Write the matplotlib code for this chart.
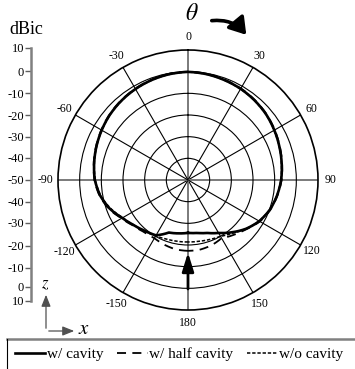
##
## === DEPENDENCIES
##

import matplotlib

matplotlib.use("Agg")
import matplotlib.pyplot as plt
import numpy
from matplotlib.lines import Line2D
from matplotlib.patches import FancyArrowPatch

##
## === DATA
##

angles_deg = list(range(-180, 181, 10))
gain_with_cavity = [
    -25.6, -25.0, -24.2, -20.5, -19.3, -17.5, -15.0, -11.5, -8.8, -7.0,
    -6.0, -5.0, -4.0, -3.0, -2.2, -1.5, -0.9, -0.4, -0.1,
    -0.4, -0.9, -1.4, -2.1, -2.9, -4.0, -5.1, -6.1, -7.0,
    -8.3, -9.8, -12.0, -15.0, -18.5, -21.8, -24.0, -25.2, -25.6,
]
gain_half_cavity = [
    -17.3, -17.5, -18.2, -19.0, -18.6, -17.2, -14.6, -11.1, -8.5, -6.8,
    -5.8, -4.8, -3.8, -2.8, -2.0, -1.3, -0.7, -0.2, 0.0,
    -0.2, -0.7, -1.2, -1.9, -2.7, -3.8, -4.9, -5.9, -6.8,
    -8.1, -9.6, -11.7, -14.8, -17.0, -19.0, -18.0, -17.4, -17.3,
]
gain_no_cavity = [
    -21.4, -21.3, -21.0, -20.2, -19.0, -17.6, -15.2, -11.9, -9.0, -7.2,
    -6.1, -5.1, -4.1, -3.1, -2.3, -1.6, -1.0, -0.5, -0.2,
    -0.5, -1.0, -1.5, -2.2, -3.0, -4.1, -5.2, -6.2, -7.1,
    -8.4, -9.9, -12.1, -15.0, -18.0, -20.0, -20.8, -21.3, -21.4,
]
series_labels = ["w/ cavity", "w/ half cavity", "w/o cavity"]

theta_tick_deg = [0, 30, 60, 90, 120, 150, 180, 210, 240, 270, 300, 330]
theta_tick_labels = ["0", "30", "60", "90", "120", "150", "180",
                     "-150", "-120", "-90", "-60", "-30"]
theta_minor_deg = [15, 45, 75, 105, 135, 165, 195, 225, 255, 285, 315, 345]
radial_rings = [-40, -30, -20, -10, 0]
radial_limits = (-50, 10)

scale_labels = ["10", "0", "-10", "-20", "-30", "-40", "-50",
                "-40", "-30", "-20", "-10", "0", "10"]
# tick rows (image pixels) of the hand drawn dBic scale
scale_rows_px = [48, 71, 93, 115, 137, 158, 180, 202, 223, 246, 268, 287, 301]

##
## === LAYOUT HELPERS
##

FIG_W, FIG_H = 355, 369


def px(x_px: float, y_px: float) -> tuple:
    return x_px / FIG_W, 1 - y_px / FIG_H


##
## === MAIN
##


def main() -> None:
    plt.rcParams["font.family"] = ["Liberation Serif", "DejaVu Serif"]
    plt.rcParams["mathtext.fontset"] = "stix"

    fig = plt.figure(figsize=(FIG_W / 100, FIG_H / 100), dpi=100)

    ## polar plot: centre (188, 180), radius 130 px
    left, top = px(58, 50)
    right, bottom = px(318, 310)
    ax = fig.add_axes([left, bottom, right - left, top - bottom], projection="polar")
    ax.set_theta_zero_location("N")
    ax.set_theta_direction(-1)
    ax.set_ylim(*radial_limits)

    ax.set_yticks(radial_rings)
    ax.set_yticklabels([])
    ax.set_xticks(numpy.deg2rad(theta_tick_deg))
    ax.set_xticklabels([])
    ax.set_xticks(numpy.deg2rad(theta_minor_deg), minor=True)
    ax.tick_params(axis="x", which="major", length=0)
    ax.tick_params(axis="x", which="minor", direction="in", length=4, width=0.8, color="black")
    ax.grid(True, which="major", color="black", linewidth=0.8)
    for idx, line in enumerate(ax.xaxis.get_gridlines()):
        if idx % 3 == 0:
            line.set_color("#707070")
            line.set_linewidth(1.3)
    ax.spines["polar"].set_linewidth(1.2)
    ax.spines["polar"].set_color("black")

    theta = numpy.deg2rad(angles_deg)
    lines = []
    lines += ax.plot(theta, gain_with_cavity, color="black", linewidth=1.9,
                     label=series_labels[0])
    lines += ax.plot(theta, gain_half_cavity, color="black", linewidth=1.3,
                     dashes=(5, 3.5), label=series_labels[1])
    lines += ax.plot(theta, gain_no_cavity, color="black", linewidth=1.1,
                     dashes=(2.2, 1.2), label=series_labels[2])
    for line in lines:
        # let the polar transform curve each segment
        line.get_path()._interpolation_steps = 20

    label_r = radial_limits[1] + 0.1 * (radial_limits[1] - radial_limits[0])
    for ang, text in zip(theta_tick_deg, theta_tick_labels):
        ax.text(numpy.deg2rad(ang), label_r, text, ha="center", va="center",
                fontsize=8.5, clip_on=False)

    ## incidence arrow at 180
    ax.annotate(
        "",
        xy=(numpy.pi, -16.5),
        xytext=(numpy.pi, 0.3),
        arrowprops=dict(arrowstyle="-|>,head_length=0.8,head_width=0.25",
                        color="black", linewidth=2.0, mutation_scale=14,
                        shrinkA=0, shrinkB=0),
    )

    ## theta label and rotation arrow
    fig.text(*px(192, 14), r"$\theta$", fontsize=17, ha="center", va="center")
    fig.patches.append(FancyArrowPatch(
        px(209, 21), px(248, 37),
        transform=fig.transFigure,
        connectionstyle="arc3,rad=-0.3",
        arrowstyle="-|>,head_length=0.7,head_width=0.45",
        mutation_scale=14, linewidth=2.6, color="black",
    ))

    ## dBic scale on the left
    s_left, s_top = px(31, scale_rows_px[0])
    _, s_bottom = px(31, scale_rows_px[-1])
    ax_scale = fig.add_axes([s_left, s_bottom, 0.01, s_top - s_bottom])
    ax_scale.set_ylim(scale_rows_px[-1], scale_rows_px[0])
    ax_scale.set_yticks(scale_rows_px)
    ax_scale.set_yticklabels(scale_labels, fontsize=9)
    ax_scale.set_xticks([])
    for side in ["top", "right", "bottom"]:
        ax_scale.spines[side].set_visible(False)
    ax_scale.spines["left"].set_color("#808080")
    ax_scale.spines["left"].set_linewidth(1.8)
    ax_scale.tick_params(axis="y", length=4, width=1, color="#606060", pad=1)
    ax_scale.patch.set_alpha(0)
    fig.text(*px(9, 29), "dBic", fontsize=13, ha="left", va="center")

    ## coordinate icon
    corner = px(46, 331)
    fig.patches.append(FancyArrowPatch(
        corner, px(46, 292), transform=fig.transFigure,
        arrowstyle="-|>,head_length=0.5,head_width=0.2", mutation_scale=14,
        linewidth=0.9, color="#505050",
    ))
    fig.patches.append(FancyArrowPatch(
        corner, px(77, 331), transform=fig.transFigure,
        arrowstyle="-|>,head_length=0.5,head_width=0.2", mutation_scale=14,
        linewidth=0.9, color="#505050",
    ))
    fig.text(*px(45, 284), r"$z$", fontsize=12, ha="center", va="center")
    fig.text(*px(84, 330), r"$x$", fontsize=15, ha="center", va="center")

    ## legend box
    fig.add_artist(Line2D([7 / FIG_W, 1.0], [1 - 339 / FIG_H] * 2,
                          transform=fig.transFigure, color="#808080", linewidth=1.8))
    fig.add_artist(Line2D([7 / FIG_W] * 2, [1 - 339 / FIG_H, 0.0],
                          transform=fig.transFigure, color="black", linewidth=0.8))
    handles, labels = ax.get_legend_handles_labels()
    fig.legend(
        handles, labels,
        loc="center", bbox_to_anchor=px(179, 354), ncol=3, frameon=False,
        fontsize=11, handlelength=2.0, handletextpad=0.1, columnspacing=0.9,
        borderpad=0, borderaxespad=0,
    )

    fig.savefig("out.png", dpi=100)


if __name__ == "__main__":
    main()
